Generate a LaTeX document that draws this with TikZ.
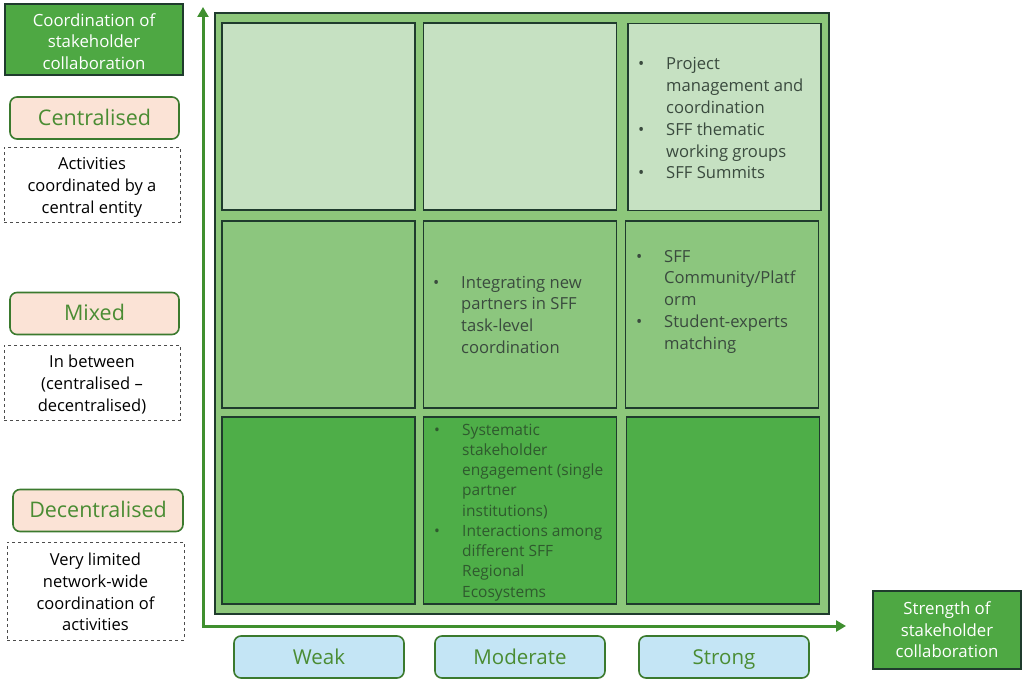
\documentclass[tikz,border=0pt]{standalone}
\usepackage{fontspec}
\setmainfont{Open Sans}
\usetikzlibrary{arrows.meta}
\definecolor{dark}{HTML}{1F3B2D}
\definecolor{axisg}{HTML}{3F8F2F}
\definecolor{hdrg}{HTML}{4EA843}
\definecolor{rowA}{HTML}{C6E1C2}
\definecolor{rowB}{HTML}{8CC67E}
\definecolor{rowC}{HTML}{4EAE48}
\definecolor{outerg}{HTML}{8DC77B}
\definecolor{pink}{HTML}{FBE3D6}
\definecolor{pinkb}{HTML}{3B7A2E}
\definecolor{labg}{HTML}{4A8C33}
\definecolor{lblue}{HTML}{C4E5F5}
\definecolor{celltxt}{HTML}{3A4A3E}
\definecolor{celltxtC}{HTML}{2F5A2E}
\newcommand\rows[2][3pt]{\raisebox{-#1}[\height][\depth]{\begin{tabular}{@{}c@{}}#2\end{tabular}}}
\newcommand\one[1]{\raisebox{-7pt}[0pt][0pt]{#1}}
\newcommand\items[1]{\begin{tabular}[t]{@{}p{28pt}@{}l@{}}#1\end{tabular}}
\begin{document}
\begin{tikzpicture}[x=1pt,y=-1pt,
  box/.style={draw=dark, line width=1.4pt, inner sep=0pt},
  cellbox/.style={box, minimum width=193pt, minimum height=187pt},
  hdr/.style={box, fill=hdrg, text=white, font=\fontsize{16.8}{21.6}\selectfont},
  level/.style={draw=pinkb, line width=1.6pt, fill=pink, rounded corners=7pt, inner sep=0pt,
     minimum width=169pt, minimum height=42pt, text=labg, font=\fontsize{21.5}{26}\selectfont},
  strength/.style={draw=pinkb, line width=1.6pt, fill=lblue, rounded corners=7pt, inner sep=0pt,
     minimum width=170pt, minimum height=42pt, text=labg, font=\fontsize{20.5}{26}\selectfont},
  note/.style={draw=black!70, dashed, line width=0.8pt, inner sep=0pt, text=black,
     font=\fontsize{16.5}{21.7}\selectfont},
  celltext/.style={inner sep=0pt, anchor=base west, text=celltxt, font=\fontsize{16.6}{21.8}\selectfont},
  axis/.style={draw=axisg, line width=3pt, -{Triangle[length=10pt,width=11pt]}}
]
\useasboundingbox (0,0) rectangle (1024,682);
% axes
\coordinate (origin) at (203,626);
\coordinate (ytop) at (203,7);
\coordinate (xend) at (846,626);
\draw[axis] (origin) -- (ytop);
\draw[axis] ([xshift=-1.5pt]origin) -- (xend);
% matrix
\node[box, fill=outerg, minimum width=614pt, minimum height=601pt] (outer) at (522,313.5) {};
\node[cellbox, fill=rowA] (c11) at (318.5,116.5) {};
\node[cellbox, fill=rowA] (c12) at (520,116.5) {};
\node[cellbox, fill=rowA] (c13) at (724.5,117) {};
\node[cellbox, fill=rowB] (c21) at (318.5,314.5) {};
\node[cellbox, fill=rowB] (c22) at (520,314.5) {};
\node[cellbox, fill=rowB] (c23) at (722,314.5) {};
\node[cellbox, fill=rowC] (c31) at (318.5,510.5) {};
\node[cellbox, fill=rowC] (c32) at (520,510.5) {};
\node[cellbox, fill=rowC] (c33) at (723,510.5) {};
% cell texts
\node[celltext] (t13) at (638,70) {\items{\textbullet & Project\\ & management and\\ & coordination\\ \textbullet & SFF thematic\\ & working groups\\ \textbullet & SFF Summits}};
\node[celltext] (t22) at (433,288) {\items{\textbullet & Integrating new\\ & partners in SFF\\ & task-level\\ & coordination}};
\node[celltext] (t23) at (636,262) {\items{\textbullet & SFF\\ & Community/Platf\\ & orm\\ \textbullet & Student-experts\\ & matching}};
\node[celltext, text=celltxtC, font=\fontsize{15.5}{20.25}\selectfont] (t32) at (434,435) {\items{\textbullet & Systematic\\ & stakeholder\\ & engagement (single\\ & partner\\ & institutions)\\ \textbullet & Interactions among\\ & different SFF\\ & Regional\\ & Ecosystems}};
% left column
\node[hdr, minimum width=178pt, minimum height=71pt] (yhdr) at (94,39.5) {\rows[4pt]{Coordination of\\ stakeholder\\ collaboration}};
\node[level] (cen) at (94.5,118) {\one{Centralised}};
\node[note, minimum width=176pt, minimum height=75pt] (cenn) at (92,184.5) {\rows[2.5pt]{Activities\\ coordinated by a\\ central entity}};
\node[level] (mix) at (94.5,313.5) {\one{Mixed}};
\node[note, minimum width=176pt, minimum height=75pt] (mixn) at (92,382.5) {\rows[2.5pt]{In between\\ (centralised –\\ decentralised)}};
\node[level, minimum width=170pt] (dec) at (98,510.5) {\one{Decentralised}};
\node[note, minimum width=177pt, minimum height=98pt] (decn) at (95.5,591) {\rows[3pt]{Very limited\\ network-wide\\ coordination of\\ activities}};
% bottom row
\node[strength] (weak) at (319,657) {\one{Weak}};
\node[strength] (mod) at (520,657) {\one{Moderate}};
\node[strength] (str) at (724,657) {\one{Strong}};
\node[hdr, minimum width=148pt, minimum height=78pt] (xhdr) at (947,630) {\rows[2pt]{Strength of\\ stakeholder\\ collaboration}};
\end{tikzpicture}
\end{document}
